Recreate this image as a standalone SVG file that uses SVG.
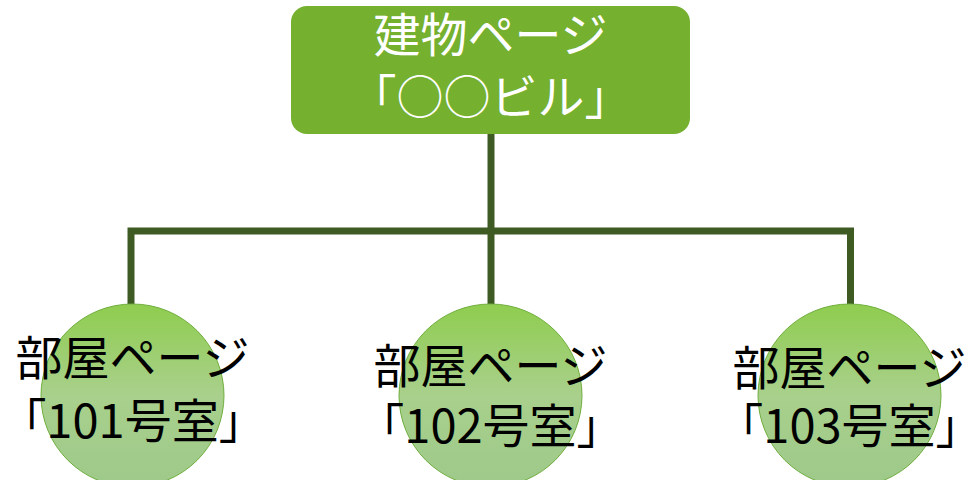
<svg xmlns="http://www.w3.org/2000/svg" width="970" height="480" viewBox="0 0 970 480">
<defs>
<linearGradient id="cg" x1="0" y1="0" x2="0" y2="1">
<stop offset="0" stop-color="#8fcd4f"/>
<stop offset="0.5" stop-color="#a9d08c"/>
<stop offset="1" stop-color="#9dc98a"/>
</linearGradient>
</defs>
<style>
.conn{fill:none;stroke:#3e5b24;stroke-width:7;stroke-linejoin:miter}
.room{fill:url(#cg);stroke:#6fae3c;stroke-width:1}
.t{font-family:"Noto Sans CJK JP","Noto Sans",sans-serif;font-size:47px;text-anchor:middle}
.w{fill:#ffffff}
.b{fill:#000000}
</style>
<rect width="970" height="480" fill="#ffffff"/>
<g id="connectors">
<path class="conn" d="M491,134 V231"/>
<path class="conn" d="M131,304 V231 H850.5 V304"/>
<path class="conn" d="M491,231 V304"/>
</g>
<g id="building">
<rect x="291" y="6" width="399" height="128" rx="16" ry="16" fill="#75b02f"/>
<text class="t w" x="490.5" y="52">建物ページ</text>
<text class="t w" x="490.5" y="114">「○○ビル」</text>
</g>
<g id="room101">
<circle class="room" cx="132.5" cy="395.5" r="91.5"/>
<text class="t b" x="132.5" y="375">部屋ページ</text>
<text class="t b" x="132.5" y="438">「101号室」</text>
</g>
<g id="room102">
<circle class="room" cx="490.5" cy="395.5" r="91.5"/>
<text class="t b" x="490.5" y="383">部屋ページ</text>
<text class="t b" x="490.5" y="443">「102号室」</text>
</g>
<g id="room103">
<circle class="room" cx="849.5" cy="395.5" r="91.5"/>
<text class="t b" x="849.5" y="385">部屋ページ</text>
<text class="t b" x="849.5" y="443">「103号室」</text>
</g>
</svg>
